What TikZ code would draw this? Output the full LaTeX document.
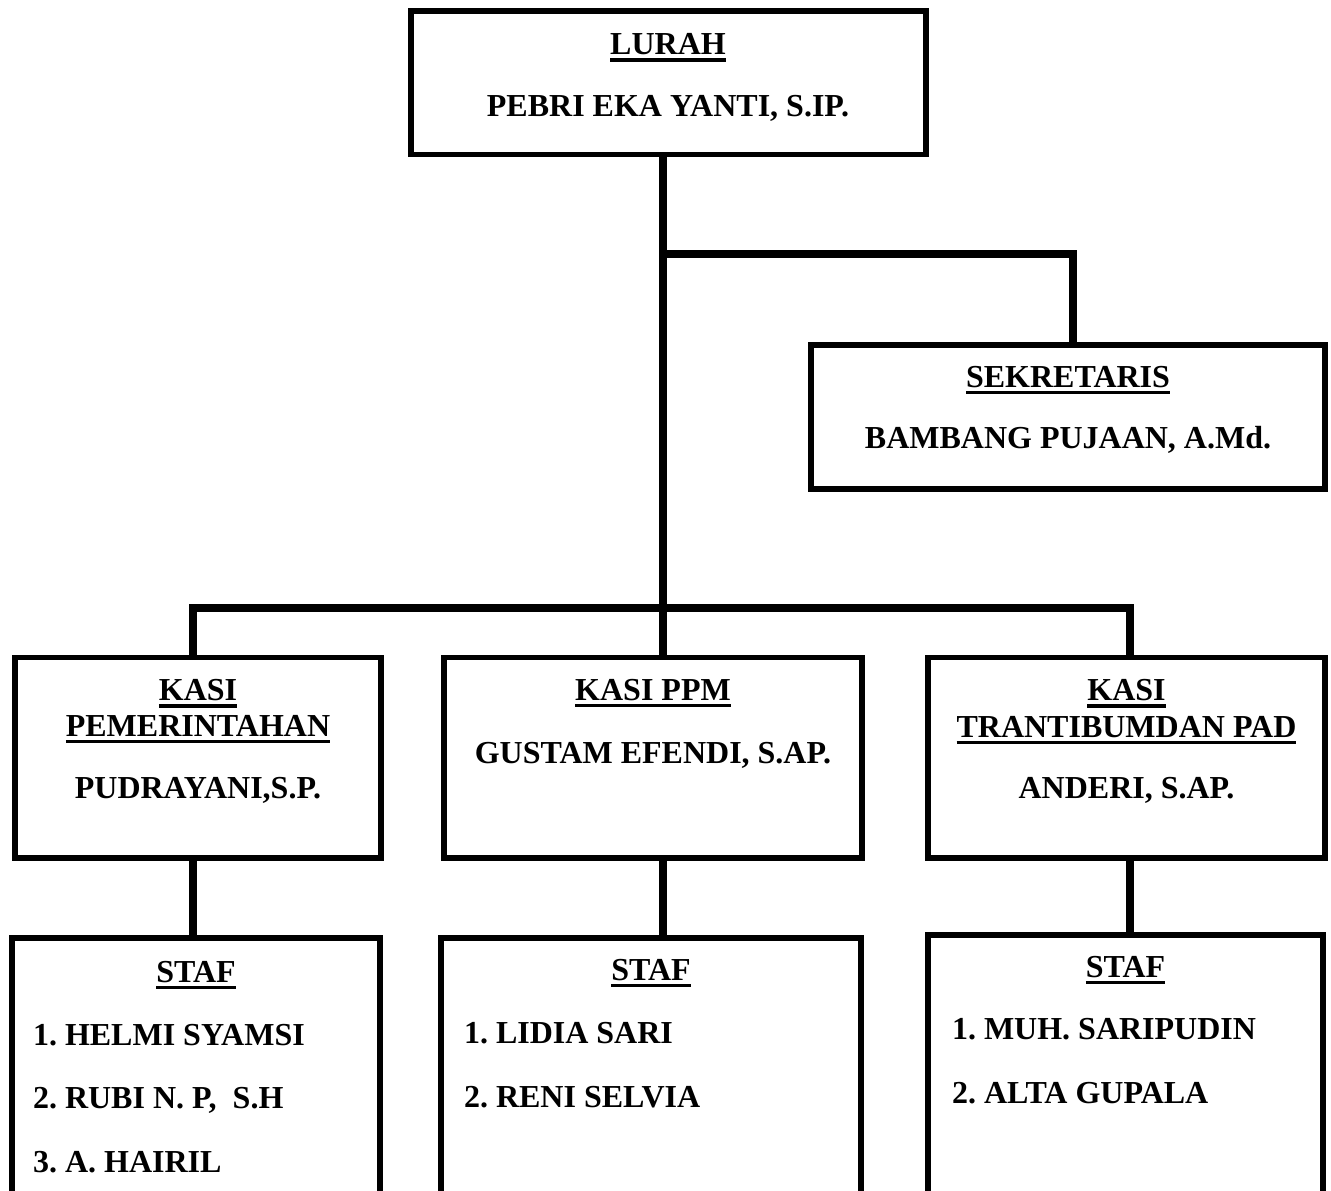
\documentclass[tikz,border=0pt]{standalone}
\usepackage{fontspec}
\setmainfont{Liberation Serif}
\usetikzlibrary{fit}
\newcommand{\ulin}[1]{\vtop{\hbox{#1}\kern2.4pt\hrule height 2.7pt}}
\frenchspacing
\begin{document}
\frenchspacing
\begin{tikzpicture}[x=0.75pt,y=-0.75pt,
  box/.style={draw,line width=4.2pt,inner sep=0pt,outer sep=0pt,rectangle},
  link/.style={line width=5.5pt,line join=miter},
  txt/.style={inner sep=0pt,outer sep=0pt,anchor=base,font=\fontsize{24}{28}\selectfont\bfseries\frenchspacing},
  itm/.style={txt,anchor=base west}]
\useasboundingbox (0,0) rectangle (1331,1191);
\clip (0,0) rectangle (1331,1191);

% boxes
\node[box,fit={(411,11) (926,154.5)}] (lurah) {};
\node[box,fit={(811,345) (1325,489)}] (sek) {};
\node[box,fit={(15,657.5) (381,858)}] (k1) {};
\node[box,fit={(444,657.5) (862,858)}] (k2) {};
\node[box,fit={(928,657.5) (1325,858)}] (k3) {};
\node[box,fit={(12,938) (380,1240)}] (s1) {};
\node[box,fit={(441,938) (861,1240)}] (s2) {};
\node[box,fit={(928,935) (1323,1240)}] (s3) {};

% junction points
\coordinate (t) at (663,608);
\coordinate (b1) at (663,254);
\coordinate (b2) at (1073,254);
\coordinate (c1) at (193,608);
\coordinate (c3) at (1130,608);

% connectors
\draw[link] (lurah.south -| t) -- (k2.north -| t);
\draw[link] (b1) -- (b2) -- (sek.north -| b2);
\draw[link] (k1.north -| c1) -- (c1) -- (c3) -- (k3.north -| c3);
\draw[link] (k1.south -| c1) -- (s1.north -| c1);
\draw[link] (k2.south -| t) -- (s2.north -| t);
\draw[link] (k3.south -| c3) -- (s3.north -| c3);

% texts
\node[txt] (lurah-a) at (668,54.5) {\ulin{LURAH}};
\node[txt] (lurah-b) at (668,116.5) {PEBRI EKA YANTI, S.IP.};
\node[txt] (sek-a) at (1068,387) {\ulin{SEKRETARIS}};
\node[txt] (sek-b) at (1068,448.5) {BAMBANG PUJAAN, A.Md.};

\node[txt] (k1-a) at (198,700.5) {\ulin{KASI}};
\node[txt] (k1-b) at (198,736.5) {\ulin{PEMERINTAHAN}};
\node[txt] (k1-c) at (198,798.5) {PUDRAYANI,S.P.};

\node[txt] (k2-a) at (653,700) {\ulin{KASI PPM}};
\node[txt] (k2-b) at (653,763) {GUSTAM EFENDI, S.AP.};

\node[txt] (k3-a) at (1126.5,700.5) {\ulin{KASI}};
\node[txt] (k3-b) at (1126.5,737) {\ulin{TRANTIBUMDAN PAD}};
\node[txt] (k3-c) at (1126.5,798.5) {ANDERI, S.AP.};

\node[txt] (s1-a) at (196,982) {\ulin{STAF}};
\node[itm] (s1-b) at (33,1045) {1. HELMI SYAMSI};
\node[itm] (s1-c) at (33,1108) {2. RUBI N. P,~ S.H};
\node[itm] (s1-d) at (33,1172) {3. A. HAIRIL};

\node[txt] (s2-a) at (651,980) {\ulin{STAF}};
\node[itm] (s2-b) at (464,1043) {1. LIDIA SARI};
\node[itm] (s2-c) at (464,1107) {2. RENI SELVIA};

\node[txt] (s3-a) at (1125.5,977) {\ulin{STAF}};
\node[itm] (s3-b) at (952,1039) {1. MUH. SARIPUDIN};
\node[itm] (s3-c) at (952,1103) {2. ALTA GUPALA};
\end{tikzpicture}
\end{document}
